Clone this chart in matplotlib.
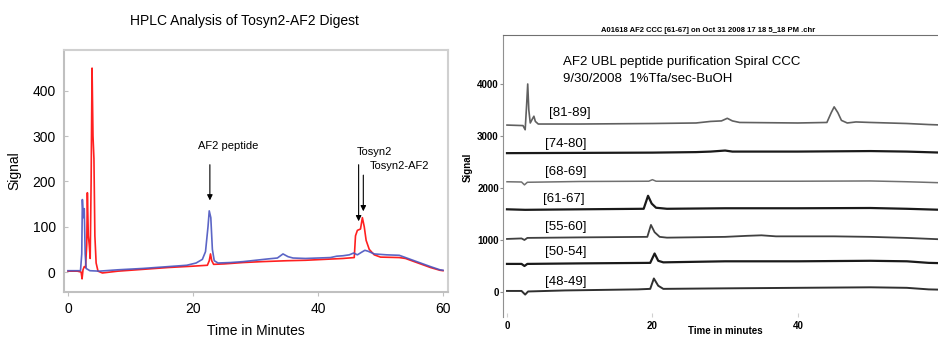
import matplotlib
matplotlib.use("Agg")
import matplotlib.pyplot as plt

plt.rcParams['font.family'] = ['Liberation Sans', 'DejaVu Sans']

# ---- left panel: HPLC digest, two traces (time in min, signal) ----
blue_t = [0, 1, 2.0, 2.2, 2.3, 2.45, 2.6, 2.75, 2.9, 3.5, 5, 8, 12, 16, 19, 20.5, 21.5, 22.0,
          22.4, 22.6, 22.85, 23.1, 23.4, 24, 26, 28, 30, 32, 33.5, 34.4, 35.2, 36, 38, 40, 42,
          43, 44, 45, 45.7, 46.3, 47.0, 47.5, 48, 49, 51, 53, 54, 56, 58, 59.5, 60]
blue_v = [3, 3, 3, 40, 160, 120, 140, 40, 8, 3, 2, 5, 8, 12, 15, 20, 28, 45,
          100, 135, 120, 50, 25, 20, 21, 23, 26, 29, 31, 40, 34, 31, 30, 31, 32,
          35, 36, 38, 42, 38, 44, 48, 46, 40, 38, 37, 32, 22, 12, 5, 4]

red_t = [0, 1.5, 2.1, 2.25, 2.4, 2.6, 2.8, 3.0, 3.1, 3.25, 3.4, 3.55, 3.7, 3.85, 4.0, 4.15,
         4.3, 4.5, 4.8, 5.5, 8, 12, 16, 20, 22.3, 22.6, 22.8, 23.0, 23.3, 25, 28, 31, 35, 38,
         41, 44, 45.8, 46.0, 46.3, 46.8, 47.1, 47.4, 47.7, 48.2, 49, 50, 53, 54, 56, 58, 59.5, 60]
red_v = [2, 2, 0, -15, 5, 12, 10, 60, 175, 80, 60, 30, 200, 450, 300, 250,
         80, 20, 2, -2, 2, 6, 10, 13, 15, 25, 40, 25, 17, 18, 21, 23, 25, 26,
         28, 30, 32, 80, 92, 95, 120, 100, 70, 50, 38, 33, 32, 30, 20, 10, 4, 3]

# annotations: label, text (t, y), arrow tail (t, y), arrow head (t, y)
notes = [
    ("AF2 peptide", (25.6, 278), (22.7, 243), (22.7, 152)),
    ("Tosyn2", (49.0, 265), (46.5, 243), (46.5, 106)),
    ("Tosyn2-AF2", (53.1, 234), (47.25, 220), (47.25, 128)),
]

# ---- right panel: CCC fractions, stacked chromatograms ----
fractions = ["[81-89]", "[74-80]", "[68-69]", "[61-67]", "[55-60]", "[50-54]", "[48-49]"]

t_81 = [0, 2.2, 2.5, 2.7, 2.85, 3.0, 3.2, 3.5, 3.7, 3.9, 4.3, 10, 20, 26, 28, 29.5, 30.3, 31, 32,
        40, 44, 44.6, 45, 45.5, 46, 46.8, 48, 50, 55, 58, 61]
v_81 = [3210, 3200, 3120, 3600, 4000, 3500, 3250, 3330, 3380, 3280, 3230, 3230, 3240, 3250, 3280,
        3290, 3340, 3290, 3260, 3250, 3260, 3450, 3560, 3450, 3300, 3250, 3270, 3260, 3240, 3220, 3205]
t_74 = [0, 10, 20, 26, 28, 30, 31, 40, 50, 55, 61]
v_74 = [2670, 2675, 2680, 2690, 2700, 2720, 2700, 2700, 2710, 2700, 2675]
t_68 = [0, 2.0, 2.4, 2.8, 10, 19.5, 20, 20.5, 30, 40, 50, 55, 61]
v_68 = [2120, 2115, 2060, 2110, 2125, 2130, 2160, 2130, 2130, 2130, 2135, 2120, 2095]
t_61 = [0, 2.5, 10, 18.8, 19.4, 19.9, 20.5, 22, 30, 40, 50, 55, 61]
v_61 = [1590, 1580, 1590, 1600, 1850, 1700, 1620, 1600, 1610, 1610, 1615, 1600, 1575]
t_55 = [0, 2.0, 2.4, 2.8, 10, 19.3, 19.8, 20.3, 21, 22, 30, 33, 35, 37, 45, 50, 55, 61]
v_55 = [1020, 1030, 1000, 1040, 1050, 1060, 1290, 1150, 1060, 1045, 1060, 1080, 1090, 1070,
        1070, 1060, 1040, 1005]
t_50 = [0, 2.0, 2.4, 2.8, 10, 19.7, 20.3, 20.8, 21.5, 30, 40, 50, 55, 58, 61]
v_50 = [540, 540, 500, 540, 550, 560, 740, 600, 570, 590, 590, 600, 590, 560, 550]
t_48 = [0, 2.0, 2.5, 2.9, 8, 18, 19.7, 20.2, 20.8, 21.5, 30, 40, 50, 55, 58, 61]
v_48 = [20, 20, -50, 10, 30, 50, 60, 260, 120, 60, 70, 80, 90, 80, 50, 40]

trace_t = [t_81, t_74, t_68, t_61, t_55, t_50, t_48]
trace_v = [v_81, v_74, v_68, v_61, v_55, v_50, v_48]
label_pos = [(5.8, 3440), (5.2, 2850), (5.2, 2300), (5.0, 1790), (5.2, 1250), (5.2, 770), (5.2, 200)]
trace_col = ["#606060", "#1a1a1a", "#707070", "#1a1a1a", "#404040", "#1a1a1a", "#303030"]
trace_lw = [1.2, 1.6, 1.1, 1.6, 1.3, 1.6, 1.4]

fig = plt.figure(figsize=(9.38, 3.37), dpi=100)

# left axes
ax = fig.add_axes([64 / 938, 45 / 337, 384 / 938, 242 / 337])
ax.plot(red_t, red_v, color="#ff2020", lw=1.2)
ax.plot(blue_t, blue_v, color="#4a55c0", lw=1.2, alpha=0.9)
ax.set_xlim(-0.64, 60.8)
ax.set_ylim(-44, 490)
ax.set_xticks([0, 20, 40, 60])
ax.set_yticks([0, 100, 200, 300, 400])
for s in ax.spines.values():
    s.set_color("#d0d0d0")
    s.set_linewidth(1.5)
ax.spines["left"].set_color("#c0c0c0")
ax.spines["bottom"].set_color("#c0c0c0")
ax.tick_params(axis="y", direction="in", length=3, color="#c0c0c0", labelsize=10, pad=6)
ax.tick_params(axis="x", direction="out", length=3, color="#c0c0c0", labelsize=10, pad=4)
ax.set_title("HPLC Analysis of Tosyn2-AF2 Digest", fontsize=10, pad=18, x=0.47)
ax.set_xlabel("Time in Minutes", fontsize=10, labelpad=6)
ax.set_ylabel("Signal", fontsize=10, labelpad=8)
for txt, tpos, tail, head in notes:
    ax.text(tpos[0], tpos[1], txt, fontsize=8, ha="center", va="center")
    ax.annotate("", xy=head, xytext=tail,
                arrowprops=dict(arrowstyle="-|>", color="black", lw=0.8, mutation_scale=8))

# right axes, runs past the right edge like the source
ax2 = fig.add_axes([503 / 938, 20 / 337, 448 / 938, 282 / 337])
for tt, vv, c, lw in zip(trace_t, trace_v, trace_col, trace_lw):
    ax2.plot(tt, vv, color=c, lw=lw)
for name, (lx, ly) in zip(fractions, label_pos):
    ax2.text(lx, ly, name, fontsize=9.5, ha="left", va="center")
ax2.text(7.7, 4420, "AF2 UBL peptide purification Spiral CCC", fontsize=9.5, va="center")
ax2.text(7.7, 4100, "9/30/2008  1%Tfa/sec-BuOH", fontsize=9.5, va="center")
ax2.set_xlim(-0.55, 61.07)
ax2.set_ylim(-481, 4942)
ax2.set_xticks([0, 20, 40, 60])
ax2.set_yticks([0, 1000, 2000, 3000, 4000])
ax2.spines["right"].set_visible(False)
ax2.spines["bottom"].set_visible(False)
ax2.spines["left"].set_color("#909090")
ax2.spines["top"].set_color("#707070")
ax2.tick_params(axis="y", direction="out", length=2, color="#909090", labelsize=7, pad=1)
ax2.tick_params(axis="x", direction="in", length=3, color="#d0d0d0", labelsize=7, pad=3)
for lab in ax2.get_xticklabels() + ax2.get_yticklabels():
    lab.set_fontweight("bold")
ax2.set_title("A01618 AF2 CCC [61-67] on Oct 31 2008 17 18 5_18 PM .chr",
              fontsize=5.5, fontweight="bold", pad=2, x=(708 - 503) / 448)
fig.text(468 / 938, 1 - 167 / 337, "Signal", rotation=90, fontsize=7, fontweight="bold",
         ha="center", va="center")
fig.text(725 / 938, 1 - 331 / 337, "Time in minutes", fontsize=7, fontweight="bold",
         ha="center", va="center")

fig.savefig("out.png", dpi=100)
